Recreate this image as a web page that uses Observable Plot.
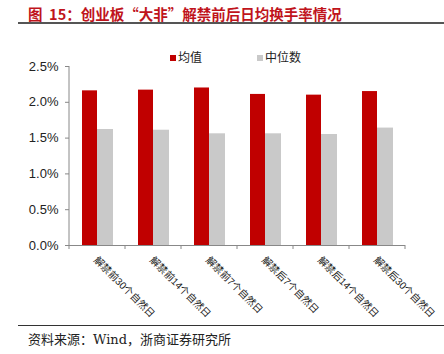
<!DOCTYPE html>
<html><head><meta charset="utf-8">
<script src="https://cdn.jsdelivr.net/npm/d3@7"></script>
<script src="https://cdn.jsdelivr.net/npm/@observablehq/plot@0.6"></script>
<style>
body{margin:0;background:#fff;width:444px;height:354px;overflow:hidden;position:relative;font-family:"Liberation Sans","Noto Sans CJK SC",sans-serif;}
#title{position:absolute;left:18px;right:0;top:0;height:22px;border-bottom:2px solid #555;}
#title span{position:absolute;left:10px;top:3px;font:bold 14.5px "Noto Sans CJK SC",sans-serif;color:#c0141c;white-space:nowrap;}
#chart{position:absolute;left:0;top:24px;}
#legend{position:absolute;top:48px;left:0;font:12px "Noto Sans CJK SC",sans-serif;color:#222;}
#legend .item{position:absolute;white-space:nowrap;}
#legend .sw{display:inline-block;width:6px;height:6px;margin-right:2px;vertical-align:1px;}
#footer{position:absolute;left:18px;right:0;top:325px;border-top:1.5px solid #333;}
#footer span{position:absolute;left:10px;top:3px;font:13px "DejaVu Serif","Noto Sans CJK SC",serif;color:#222;white-space:nowrap;}
</style></head>
<body>
<div id="title"><span>图&nbsp;&nbsp;15：创业板“大非”解禁前后日均换手率情况</span></div>
<div id="chart"></div>
<div id="legend"></div>
<div id="footer"><span>资料来源：Wind，浙商证券研究所</span></div>
<script>
const categories = ["解禁前30个自然日","解禁前14个自然日","解禁前7个自然日","解禁后7个自然日","解禁后14个自然日","解禁后30个自然日"];
const seriesNames = ["均值","中位数"];
const meanValues = [0.0216,0.0217,0.0220,0.0211,0.0210,0.0215];
const medianValues = [0.0162,0.0161,0.0156,0.0156,0.0155,0.0164];
const yTicks = [0,0.005,0.01,0.015,0.02,0.025];
const colors = ["#c00000","#c9c9c9"];

const data = [];
categories.forEach((c,i)=>{
  data.push({cat:c, series:seriesNames[0], value:meanValues[i]});
  data.push({cat:c, series:seriesNames[1], value:medianValues[i]});
});

const chart = Plot.plot({
  width:444, height:298,
  marginTop:42, marginBottom:77, marginLeft:69, marginRight:39,
  style:{fontFamily:"Liberation Sans, Noto Sans CJK SC, sans-serif", fontSize:"13px", color:"#222", background:"#fff"},
  x:{type:"band", domain:categories, padding:0, axis:null},
  y:{type:"linear", domain:[0,0.025], label:null},
  marks:[
    Plot.barY(data.filter(d=>d.series===seriesNames[0]), {x:"cat", y:"value", fill:colors[0], insetLeft:13, insetRight:28}),
    Plot.barY(data.filter(d=>d.series===seriesNames[1]), {x:"cat", y:"value", fill:colors[1], insetLeft:28, insetRight:12}),
    Plot.axisY({ticks:yTicks, tickFormat:d=>(d*100).toFixed(1)+"%", tickSize:4, tickPadding:7, stroke:"#888", fontSize:13, label:null}),
    Plot.ruleY([0], {stroke:"#888"}),
    Plot.text(categories, {x:d=>d, y:()=>0, text:d=>d, rotate:45, textAnchor:"start", lineAnchor:"middle", dx:-2, dy:13, fontSize:10, fill:"#222"})
  ]
});
document.getElementById("chart").appendChild(chart);

// y axis line and boundary tick marks below the x axis
const svg = d3.select(chart);
const xs = chart.scale("x"), ys = chart.scale("y");
const y0 = ys.apply(0), yTop = ys.apply(0.025);
const left = xs.apply(categories[0]);
svg.append("line").attr("x1",left).attr("x2",left).attr("y1",yTop).attr("y2",y0).attr("stroke","#888");
const bounds = categories.map(c=>xs.apply(c)).concat([xs.apply(categories[categories.length-1])+xs.bandwidth]);
svg.append("g").selectAll("line").data(bounds).join("line")
  .attr("x1",d=>d).attr("x2",d=>d).attr("y1",y0).attr("y2",y0+4).attr("stroke","#888");

const legend = document.getElementById("legend");
const lx = [170, 257];
seriesNames.forEach((s,i)=>{
  const it = document.createElement("div");
  it.className="item"; it.style.left=lx[i]+"px";
  it.innerHTML = `<span class="sw" style="background:${colors[i]}"></span>${s}`;
  legend.appendChild(it);
});
</script>
</body></html>
